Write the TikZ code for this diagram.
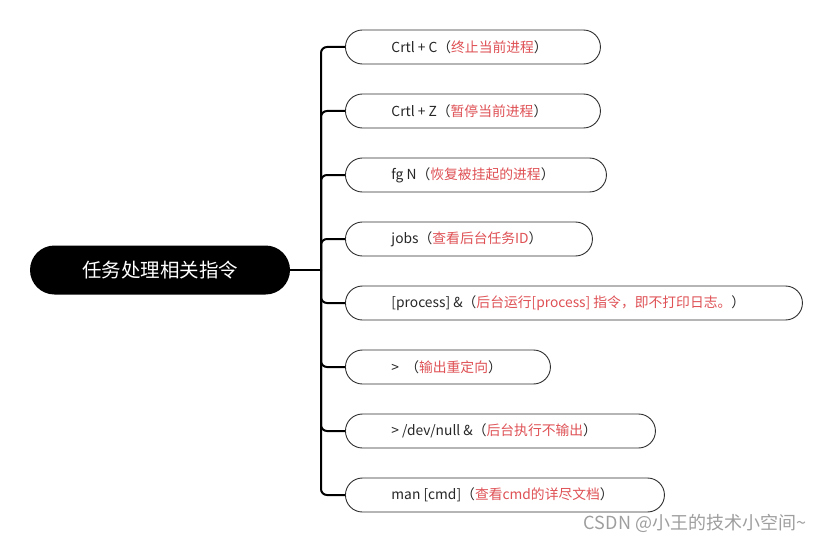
\documentclass[tikz,border=0pt]{standalone}
\usepackage{fontspec}
\setmainfont{Noto Sans CJK SC}
\definecolor{notered}{RGB}{222,80,84}
\definecolor{boxline}{RGB}{45,45,45}
% command text: fixed width, then the red note in full-width brackets
\newcommand{\cmdtext}[3]{\makebox[#1pt][l]{#2（\textcolor{notered}{#3}）}}
\begin{document}
\begin{tikzpicture} [x=1pt, y=1pt,
  root/.style={fill=black, text=white, rounded corners=24.5pt,
    minimum width=260pt, minimum height=49pt, font=\fontsize{19.5}{22}\selectfont},
  cmd/.style={draw=boxline, line width=0.9pt, rounded corners=17pt, anchor=west,
    minimum height=34pt, inner xsep=46pt, inner ysep=0pt,
    text=black!85, font=\fontsize{13.8}{15}\selectfont},
  link/.style={line width=2pt, rounded corners=6pt}]
\useasboundingbox (0,0) rectangle (832,542);
\node[root] (root) at (160,272) {任务处理相关指令};
\coordinate (trunk) at (321,272);
\node[cmd] (c1) at (345,495) {\cmdtext{163}{Crtl + C}{终止当前进程}};
\node[cmd] (c2) at (345,431) {\cmdtext{163}{Crtl + Z}{暂停当前进程}};
\node[cmd] (c3) at (345,367) {\cmdtext{169}{fg N}{恢复被挂起的进程}};
\node[cmd] (c4) at (345,303) {\cmdtext{155}{jobs}{查看后台任务ID}};
\node[cmd] (c5) at (345,239) {\cmdtext{365}{[process] \&}{后台运行[process] 指令，即不打印日志。}};
\node[cmd] (c6) at (345,175) {\cmdtext{113}{>\ \ }{输出重定向}};
\node[cmd] (c7) at (345,111) {\cmdtext{218}{> /dev/null \&}{后台执行不输出}};
\node[cmd] (c8) at (345,47) {\cmdtext{227}{man [cmd]}{查看cmd的详尽文档}};
% connectors
\draw[link, line width=2.4pt] (root.east) -- (trunk);
\draw[link] (trunk) |- (c1.west);
\draw[link] (trunk) |- (c2.west);
\draw[link] (trunk) |- (c3.west);
\draw[link] (trunk) |- (c4.west);
\draw[link] (trunk) |- (c5.west);
\draw[link] (trunk) |- (c6.west);
\draw[link] (trunk) |- (c7.west);
\draw[link] (trunk) |- (c8.west);
\node[text=black!38, font=\fontsize{18}{20}\selectfont] (mark) at (695,19) {CSDN @小王的技术小空间\textasciitilde};
\end{tikzpicture}
\end{document}
